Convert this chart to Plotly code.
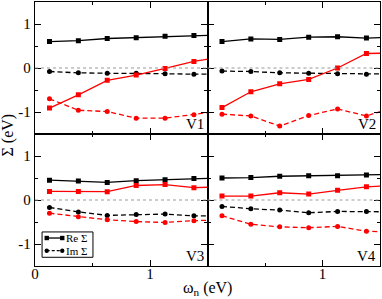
import plotly.graph_objects as go
from plotly.subplots import make_subplots

# Matsubara frequencies (eV)
omega = [0.126, 0.377, 0.628, 0.880, 1.131, 1.382, 1.634]

panels = ["V1", "V2", "V3", "V4"]

# black series
re_black = {
    "V1": [0.60, 0.62, 0.67, 0.69, 0.72, 0.74, 0.75],
    "V2": [0.60, 0.66, 0.65, 0.70, 0.71, 0.68, 0.70],
    "V3": [0.45, 0.43, 0.40, 0.44, 0.46, 0.49, 0.50],
    "V4": [0.50, 0.51, 0.54, 0.55, 0.55, 0.57, 0.58],
}
im_black = {
    "V1": [-0.08, -0.11, -0.12, -0.12, -0.13, -0.14, -0.14],
    "V2": [-0.07, -0.08, -0.11, -0.12, -0.13, -0.14, -0.14],
    "V3": [-0.17, -0.27, -0.35, -0.33, -0.32, -0.36, -0.36],
    "V4": [-0.145, -0.20, -0.23, -0.29, -0.26, -0.26, -0.27],
}
# red series
re_red = {
    "V1": [-0.91, -0.61, -0.28, -0.16, -0.01, 0.15, 0.26],
    "V2": [-0.90, -0.54, -0.36, -0.26, 0.00, 0.33, 0.34],
    "V3": [0.195, 0.195, 0.19, 0.33, 0.35, 0.28, 0.30],
    "V4": [0.09, 0.09, 0.165, 0.135, 0.22, 0.30, 0.33],
}
im_red = {
    "V1": [-0.70, -0.96, -0.99, -1.14, -1.14, -1.06, -0.97],
    "V2": [-1.05, -1.09, -1.32, -1.08, -0.93, -1.09, -0.88],
    "V3": [-0.30, -0.38, -0.45, -0.49, -0.51, -0.47, -0.45],
    "V4": [-0.36, -0.55, -0.61, -0.63, -0.60, -0.71, -0.73],
}

x_tickvals_left = [0, 1]
x_ticktext_left = ["0", "1"]
x_tickvals_right = [1]
x_ticktext_right = ["1"]
y_tickvals = [-1, 0, 1]
y_ticktext = ["-1", "0", "1"]

legend_labels = ["Re Σ", "Im Σ"]

FONT = "Liberation Serif"
BLACK = "#000000"
RED = "#ff0000"

fig = make_subplots(rows=2, cols=2, horizontal_spacing=0, vertical_spacing=0)

positions = {"V1": (1, 1), "V2": (1, 2), "V3": (2, 1), "V4": (2, 2)}

for p in panels:
    r, c = positions[p]
    fig.add_trace(go.Scatter(x=omega, y=re_black[p], mode="lines+markers", name="Re Σ",
                             line=dict(color=BLACK, width=1.3),
                             marker=dict(symbol="square", size=5, color=BLACK),
                             showlegend=False), row=r, col=c)
    fig.add_trace(go.Scatter(x=omega, y=im_black[p], mode="lines+markers", name="Im Σ",
                             line=dict(color=BLACK, width=1.3, dash="5px,3px"),
                             marker=dict(symbol="circle", size=5, color=BLACK),
                             showlegend=False), row=r, col=c)
    fig.add_trace(go.Scatter(x=omega, y=re_red[p], mode="lines+markers", name="Re Σ (red)",
                             line=dict(color=RED, width=1.3),
                             marker=dict(symbol="square", size=5, color=RED),
                             showlegend=False), row=r, col=c)
    fig.add_trace(go.Scatter(x=omega, y=im_red[p], mode="lines+markers", name="Im Σ (red)",
                             line=dict(color=RED, width=1.3, dash="5px,3px"),
                             marker=dict(symbol="circle", size=5, color=RED),
                             showlegend=False), row=r, col=c)
    # zero reference line
    fig.add_hline(y=0, line=dict(color="#999999", width=1, dash="dot"), row=r, col=c)
    idx = (r - 1) * 2 + c
    suffix = "" if idx == 1 else str(idx)
    fig.add_annotation(text=p, xref=f"x{suffix} domain", yref=f"y{suffix} domain",
                       x=0.99, y=0.0, xanchor="right", yanchor="bottom", showarrow=False,
                       font=dict(family=FONT, size=15, color=BLACK))

axis_common = dict(showline=True, linecolor=BLACK, linewidth=1.3, mirror="ticks",
                   ticks="inside", ticklen=6, tickwidth=1, tickcolor=BLACK,
                   showgrid=False, zeroline=False,
                   tickfont=dict(family=FONT, size=15, color=BLACK))

for r in (1, 2):
    for c in (1, 2):
        fig.update_xaxes(range=[0, 1.5], tickmode="array",
                         tickvals=(x_tickvals_left if c == 1 else x_tickvals_right),
                         ticktext=(x_ticktext_left if c == 1 else x_ticktext_right),
                         showticklabels=(r == 2), ticklabelstandoff=-6,
                         minor=dict(ticks="inside", ticklen=3, dtick=0.5, tick0=0, tickcolor=BLACK, showgrid=False),
                         **axis_common, row=r, col=c)
        fig.update_yaxes(range=[-1.5, 1.5], tickmode="array", tickvals=y_tickvals, ticktext=y_ticktext,
                         showticklabels=(c == 1),
                         minor=dict(ticks="inside", ticklen=3, dtick=0.5, tick0=0, tickcolor=BLACK, showgrid=False),
                         **axis_common, row=r, col=c)

# ---- legend (in the V3 panel, lower-left) ----
lx, ly = "x3 domain", "y3 domain"
fig.add_shape(type="rect", xref=lx, yref=ly, x0=0.041, x1=0.336, y0=0.066, y1=0.258,
              line=dict(color=BLACK, width=1), fillcolor="white", layer="above")
rows_y = [0.212, 0.116]
dashes = ["solid", "3px,2px"]
for yy, d, sym in zip(rows_y, dashes, ["square", "circle"]):
    fig.add_shape(type="line", xref=lx, yref=ly, x0=0.068, x1=0.158, y0=yy, y1=yy,
                  line=dict(color=BLACK, width=1.3, dash=d), layer="above")
    for xx in (0.068, 0.158):
        fig.add_shape(type="rect" if sym == "square" else "circle", xref=lx, yref=ly,
                      xsizemode="pixel", ysizemode="pixel", xanchor=xx, yanchor=yy,
                      x0=-2.2, x1=2.2, y0=-2.2, y1=2.2,
                      fillcolor=BLACK, line=dict(color=BLACK, width=0), layer="above")
for yy, lab in zip(rows_y, legend_labels):
    fig.add_annotation(text=lab, xref=lx, yref=ly, x=0.176, y=yy, xanchor="left", yanchor="middle",
                       showarrow=False, borderpad=0, font=dict(family=FONT, size=11, color=BLACK))

fig.add_annotation(text="ω<sub>n</sub> (eV)", xref="paper", yref="paper", x=0.5, y=-0.087,
                   xanchor="center", yanchor="middle", showarrow=False,
                   font=dict(family=FONT, size=16, color=BLACK))
fig.add_annotation(text="Σ (eV)", xref="paper", yref="paper", x=-0.077, y=0.496,
                   xanchor="center", yanchor="middle", textangle=-90, showarrow=False,
                   font=dict(family=FONT, size=16, color=BLACK))

fig.update_layout(
    width=382, height=299,
    margin=dict(l=35, r=2, t=2, b=33),
    paper_bgcolor="white", plot_bgcolor="white",
    font=dict(family=FONT, color=BLACK),
    showlegend=False,
)

fig.write_html("out.html", config={"displayModeBar": False},
               post_script="document.body.style.margin='0';document.body.style.overflow='hidden';")
